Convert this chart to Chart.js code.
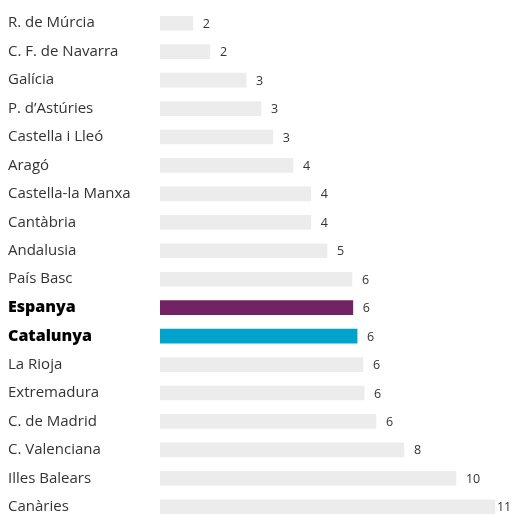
<!DOCTYPE html>
<html>
<head>
<meta charset="utf-8">
<script src="https://cdn.jsdelivr.net/npm/chart.js@4/dist/chart.umd.min.js"></script>
<style>
  html, body { margin: 0; padding: 0; overflow: hidden; background: #fff; }
  #wrap { width: 525px; height: 530px; }
</style>
</head>
<body>
<div id="wrap"><canvas id="chart" width="525" height="530"></canvas></div>
<script>
// categories, top to bottom
const regions = [
  'R. de Múrcia', 'C. F. de Navarra', 'Galícia', 'P. d\u2019Astúries', 'Castella i Lleó',
  'Aragó', 'Castella-la Manxa', 'Cantàbria', 'Andalusia', 'País Basc',
  'Espanya', 'Catalunya', 'La Rioja', 'Extremadura', 'C. de Madrid',
  'C. Valenciana', 'Illes Balears', 'Canàries'
];
// bar lengths
const values = [
  1.08, 1.64, 2.83, 3.32, 3.71,
  4.37, 4.96, 4.96, 5.49, 6.31,
  6.34, 6.48, 6.67, 6.71, 7.10,
  8.02, 9.73, 11.01
];
// numbers printed next to the bars
const valueLabels = [
  '2', '2', '3', '3', '3',
  '4', '4', '4', '5', '6',
  '6', '6', '6', '6', '6',
  '8', '10', '11'
];
const highlight = { 'Espanya': '#722363', 'Catalunya': '#00a3cc' };

const barColors = regions.map(r => highlight[r] || '#ececec');

// simple value labels drawn after the bars
const valueLabelPlugin = {
  id: 'valueLabels',
  afterDatasetsDraw(chart) {
    const ctx = chart.ctx;
    const meta = chart.getDatasetMeta(0);
    ctx.save();
    ctx.font = '12.5px "Open Sans", sans-serif';
    ctx.fillStyle = '#333';
    ctx.textBaseline = 'middle';
    ctx.textAlign = 'left';
    meta.data.forEach((bar, i) => {
      const txt = valueLabels[i];
      const w = ctx.measureText(txt).width;
      let x = bar.x + 10;
      if (x + w > 510) x = Math.max(bar.x + 2, 510 - w); // keep last one inside
      ctx.fillText(txt, x, bar.y + 1);
    });
    ctx.restore();
  }
};

new Chart(document.getElementById('chart'), {
  type: 'bar',
  data: {
    labels: regions,
    datasets: [{
      data: values,
      backgroundColor: barColors,
      borderWidth: 0,
      barThickness: 14
    }]
  },
  options: {
    indexAxis: 'y',
    responsive: false,
    animation: false,
    layout: { padding: { left: 8, top: 7, bottom: 7, right: 0 } },
    plugins: {
      legend: { display: false },
      tooltip: { enabled: false }
    },
    scales: {
      x: {
        display: false,
        min: 0,
        max: 12
      },
      y: {
        grid: { display: false },
        border: { display: false },
        afterFit(scale) { scale.width = 152; },
        ticks: {
          crossAlign: 'far',
          padding: 0,
          color: (c) => highlight[regions[c.index]] ? '#000' : '#333',
          font: (c) => highlight[regions[c.index]]
            ? { family: '"Open Sans", sans-serif', size: 16, weight: '800' }
            : { family: '"Open Sans", sans-serif', size: 15, weight: 'normal' }
        }
      }
    }
  },
  plugins: [valueLabelPlugin]
});
</script>
</body>
</html>
